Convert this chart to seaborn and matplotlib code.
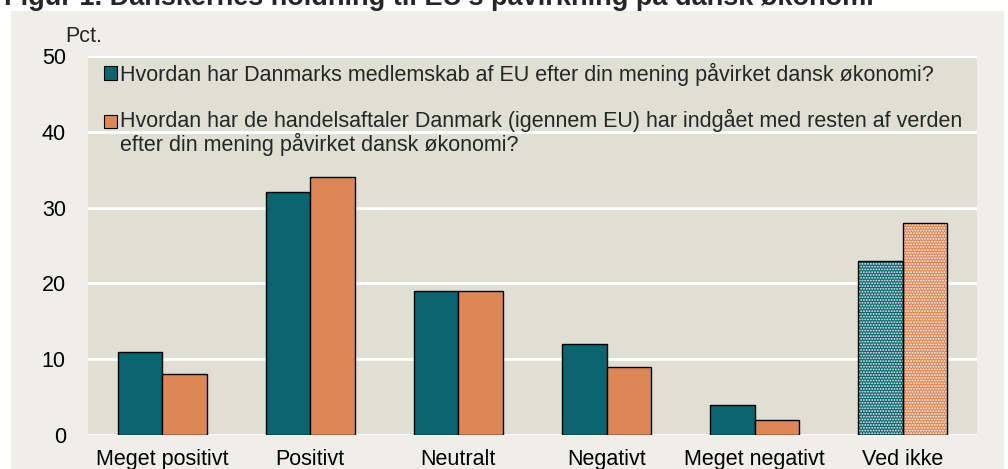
import numpy as np
import pandas as pd
import seaborn as sns
import matplotlib.pyplot as plt
from matplotlib.patches import Rectangle

# Data
categories = ['Meget positivt', 'Positivt', 'Neutralt', 'Negativt', 'Meget negativt', 'Ved ikke']
medlemskab = [11, 32, 19, 12, 4, 23]
handelsaftaler = [8, 34, 19, 9, 2, 28]
series = ['Hvordan har Danmarks medlemskab af EU efter din mening påvirket dansk økonomi?',
          'Hvordan har de handelsaftaler Danmark (igennem EU) har indgået med resten af verden\nefter din mening påvirket dansk økonomi?']

df = pd.DataFrame({'kategori': categories * 2,
                   'pct': medlemskab + handelsaftaler,
                   'serie': [series[0]] * len(categories) + [series[1]] * len(categories)})

teal = '#0A6570'
orange = '#DE8756'
fs = 15.5

sns.set_style('white')
plt.rcParams['font.family'] = ['Liberation Sans', 'DejaVu Sans']
plt.rcParams['hatch.linewidth'] = 0.9

fig = plt.figure(figsize=(10.08, 4.69), dpi=100)
fig.patch.set_facecolor('white')
# beige panel behind the chart
fig.patches.append(Rectangle((11 / 1008, 0), (1004 - 11) / 1008, 1 - 11 / 469,
                             transform=fig.transFigure, facecolor='#EFEEE8',
                             edgecolor='none', zorder=-5))
fig.text(0.004, 0.99, "Figur 1. Danskernes holdning til EU's påvirkning på dansk økonomi",
         fontsize=19.5, fontweight='bold', va='baseline', ha='left')

ax = fig.add_axes([88 / 1008, 34 / 469, (977 - 88) / 1008, (435 - 56) / 469])
ax.set_facecolor('#E0DFD4')

sns.barplot(data=df, x='kategori', y='pct', hue='serie', palette=[teal, orange],
            width=0.6, edgecolor='black', linewidth=1.0, saturation=1, ax=ax)

# hatched "Ved ikke" bars
for cont in ax.containers:
    p = cont.patches[-1]
    x, w, h = p.get_x(), p.get_width(), p.get_height()
    p.set_edgecolor('#F4F4F0')
    p.set_hatch('......')
    p.set_linewidth(0)
    ax.add_patch(Rectangle((x, 0), w, h, fill=False, edgecolor='black', linewidth=1.0, zorder=3))

ax.set_ylim(0, 50)
ax.set_yticks(range(0, 51, 10))
ax.yaxis.grid(True, color='white', linewidth=2)
ax.set_axisbelow(True)
for s in ax.spines.values():
    s.set_visible(False)
ax.set_xlabel('')
ax.set_ylabel('')
ax.tick_params(axis='both', length=0, labelsize=fs, colors='black')
ax.tick_params(axis='y', pad=16)
ax.tick_params(axis='x', pad=10)
ax.text(-0.026, 1.025, 'Pct.', transform=ax.transAxes, fontsize=fs, ha='left', va='bottom')

leg = ax.legend(loc='upper left', bbox_to_anchor=(0.011, 1.0), frameon=False, fontsize=fs,
                handlelength=0.6, handleheight=0.6, handletextpad=0.15, labelspacing=1.08,
                borderaxespad=0.0, borderpad=0.3)
for t in leg.get_texts():
    t.set_linespacing(1.07)
for h in leg.legend_handles:
    h.set_edgecolor('black')
    h.set_linewidth(0.8)
# put the second marker level with the first line of its label
h2 = leg.legend_handles[1]
h2.set_y(h2.get_y() + 8.3)

fig.savefig('out.png', dpi=100)
